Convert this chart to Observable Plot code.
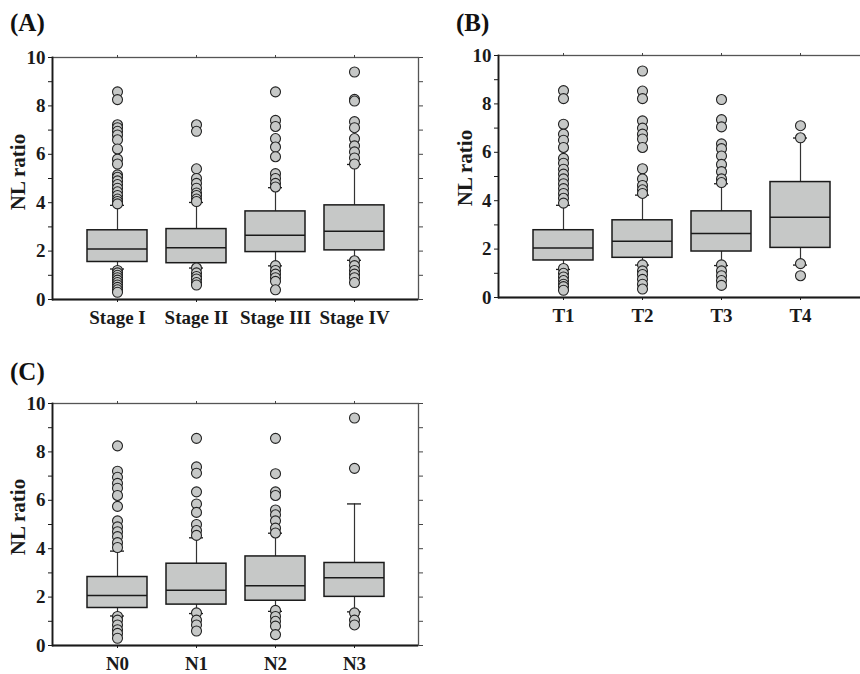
<!DOCTYPE html>
<html>
<head>
<meta charset="utf-8">
<script src="https://cdn.jsdelivr.net/npm/d3@7"></script>
<script src="https://cdn.jsdelivr.net/npm/@observablehq/plot@0.6"></script>
<style>
  html, body { margin: 0; padding: 0; background: #fff; width: 860px; height: 674px; overflow: hidden; position: relative; }
  .panel { position: absolute; width: 430px; height: 335px; }
  .panel svg { max-width: none !important; width: 430px; height: 335px; }
  .title { position: absolute; font-family: "Liberation Serif", "Times New Roman", serif; font-weight: bold; font-size: 25px; line-height: 1; color: #111; }
  .ylab { position: absolute; font-family: "Liberation Serif", "Times New Roman", serif; font-weight: bold; font-size: 21px; line-height: 1; color: #1a1a1a; white-space: nowrap; transform: translate(-50%, -50%) rotate(-90deg); }
</style>
</head>
<body>
<div class="title" style="left:10px; top:10px;">(A)</div>
<div class="title" style="left:456px; top:10px;">(B)</div>
<div class="title" style="left:10px; top:359px;">(C)</div>
<div id="pa" class="panel" style="left:0px; top:0px;"></div>
<div id="pb" class="panel" style="left:446px; top:-2px;"></div>
<div id="pc" class="panel" style="left:0px; top:346px;"></div>
<div class="ylab" style="left:18px; top:172px;"></div>
<div class="ylab" style="left:465px; top:168px;"></div>
<div class="ylab" style="left:18px; top:517px;"></div>
<script>
// ---- Panel A: stage ----
const stageCats = ["Stage I", "Stage II", "Stage III", "Stage IV"];
const stageQ1  = [1.55, 1.50, 1.96, 2.03];
const stageMed = [2.09, 2.14, 2.65, 2.82];
const stageQ3  = [2.86, 2.91, 3.64, 3.89];
const stageLo  = [1.26, 1.30, 1.39, 1.62];
const stageHi  = [3.89, 4.01, 4.62, 5.58];
const stageOut = [
  [8.58, 8.26, 7.22, 7.1, 6.95, 6.8, 6.6, 6.22, 5.8, 5.6, 5.15, 5.05, 4.9, 4.75, 4.6, 4.45, 4.3, 4.15, 4.05, 3.95,
   1.2, 1.1, 1.0, 0.9, 0.8, 0.7, 0.6, 0.5, 0.4, 0.3],
  [7.22, 6.95, 5.4, 5.0, 4.8, 4.6, 4.4, 4.3, 4.15, 4.05,
   1.3, 1.1, 0.95, 0.85, 0.7, 0.6],
  [8.58, 7.4, 7.15, 6.65, 6.3, 5.9, 5.2, 5.0, 4.8, 4.65,
   1.4, 1.2, 1.05, 0.9, 0.75, 0.4],
  [9.4, 8.27, 8.2, 7.35, 7.1, 6.65, 6.35, 6.1, 5.85, 5.6,
   1.6, 1.4, 1.2, 1.05, 0.9, 0.7]
];

// ---- Panel B: T ----
const tCats = ["T1", "T2", "T3", "T4"];
const tQ1  = [1.53, 1.64, 1.90, 2.05];
const tMed = [2.05, 2.32, 2.64, 3.32];
const tQ3  = [2.78, 3.19, 3.56, 4.77];
const tLo  = [1.16, 1.34, 1.32, 1.34];
const tHi  = [3.81, 4.23, 4.70, 6.59];
const tOut = [
  [8.55, 8.22, 7.16, 6.75, 6.5, 6.2, 5.75, 5.55, 5.3, 5.1, 4.9, 4.7, 4.5, 4.3, 4.1, 3.9,
   1.2, 1.0, 0.85, 0.7, 0.55, 0.45, 0.3],
  [9.36, 8.53, 8.22, 7.3, 7.0, 6.75, 6.55, 6.2, 5.32, 4.9, 4.63, 4.45, 4.3,
   1.35, 1.1, 0.95, 0.75, 0.55, 0.35],
  [8.18, 7.35, 7.05, 6.35, 6.15, 5.85, 5.5, 5.2, 4.9, 4.75,
   1.35, 1.1, 0.9, 0.7, 0.5],
  [7.1, 6.6, 1.4, 0.9]
];

// ---- Panel C: N ----
const nCats = ["N0", "N1", "N2", "N3"];
const nQ1  = [1.55, 1.69, 1.85, 2.01];
const nMed = [2.07, 2.28, 2.47, 2.80];
const nQ3  = [2.83, 3.38, 3.68, 3.41];
const nLo  = [1.22, 1.32, 1.41, 1.39];
const nHi  = [3.90, 4.45, 4.64, 5.85];
const nOut = [
  [8.25, 7.2, 6.95, 6.7, 6.5, 6.2, 5.75, 5.15, 4.9, 4.7, 4.5, 4.25, 4.05,
   1.2, 1.05, 0.85, 0.65, 0.5, 0.3],
  [8.56, 7.38, 7.12, 6.35, 5.85, 5.5, 5.0, 4.75, 4.55,
   1.35, 1.05, 0.85, 0.6],
  [8.56, 7.1, 6.35, 6.2, 5.6, 5.4, 5.15, 4.85, 4.65,
   1.45, 1.2, 1.0, 0.8, 0.45],
  [9.4, 7.32, 1.35, 1.05, 0.85]
];

const yTicks = [0, 1, 2, 3, 4, 5, 6, 7, 8, 9, 10];
const yLabel = "NL ratio";

const BOX_FILL = "#c6c8c7";
const INK = "#1a1a1a";

function panel(cats, q1, med, q3, lo, hi, outs) {
  const stats = cats.map((c, i) => ({cat: c, q1: q1[i], med: med[i], q3: q3[i], lo: lo[i], hi: hi[i]}));
  const outliers = cats.flatMap((c, i) => outs[i].map(v => ({cat: c, v})));
  return Plot.plot({
    width: 430,
    height: 335,
    marginLeft: 52,
    marginRight: 12,
    marginTop: 57,
    marginBottom: 36,
    style: {fontFamily: "'Liberation Serif', 'Times New Roman', serif", fontSize: "19px", fontWeight: "bold", color: INK, background: "transparent", overflow: "visible", maxWidth: "none"},
    x: {type: "band", domain: cats, paddingInner: 0.243, paddingOuter: 0.429, label: null},
    y: {domain: [0, 10], label: null},
    marks: [
      Plot.frame({stroke: "#555", strokeWidth: 1.3}),
      Plot.frame({anchor: "left", stroke: INK, strokeWidth: 1.8}),
      Plot.axisY({anchor: "left", ticks: yTicks, tickSize: 4, tickPadding: 3, tickFormat: d => d % 2 ? "" : String(d), label: null, fontSize: "19px", stroke: INK}),
      Plot.axisY({anchor: "right", ticks: yTicks, tickSize: 4, tickFormat: () => "", label: null, stroke: "#444"}),
      Plot.axisX({anchor: "top", tickSize: 3, tickFormat: () => "", label: null, stroke: "#444"}),
      Plot.axisX({anchor: "bottom", tickSize: 3, tickPadding: 8, label: null, fontSize: "19px", stroke: INK}),
      Plot.ruleY([0], {stroke: INK, strokeWidth: 1.8}),
      Plot.ruleX(stats, {x: "cat", y1: "q3", y2: "hi", stroke: "#333", strokeWidth: 1.2}),
      Plot.ruleX(stats, {x: "cat", y1: "lo", y2: "q1", stroke: "#333", strokeWidth: 1.2}),
      Plot.tickY(stats, {x: "cat", y: "hi", inset: 23, stroke: INK, strokeWidth: 1.3}),
      Plot.tickY(stats, {x: "cat", y: "lo", inset: 23, stroke: INK, strokeWidth: 1.3}),
      Plot.barY(stats, {x: "cat", y1: "q1", y2: "q3", fill: BOX_FILL, stroke: INK, strokeWidth: 1.5}),
      Plot.tickY(stats, {x: "cat", y: "med", stroke: INK, strokeWidth: 1.5}),
      Plot.dot(outliers, {x: "cat", y: "v", r: 5, fill: BOX_FILL, stroke: "#222", strokeWidth: 1.1})
    ]
  });
}

document.getElementById("pa").append(panel(stageCats, stageQ1, stageMed, stageQ3, stageLo, stageHi, stageOut));
document.getElementById("pb").append(panel(tCats, tQ1, tMed, tQ3, tLo, tHi, tOut));
document.getElementById("pc").append(panel(nCats, nQ1, nMed, nQ3, nLo, nHi, nOut));
document.querySelectorAll(".ylab").forEach(el => { el.textContent = yLabel; });
</script>
</body>
</html>
